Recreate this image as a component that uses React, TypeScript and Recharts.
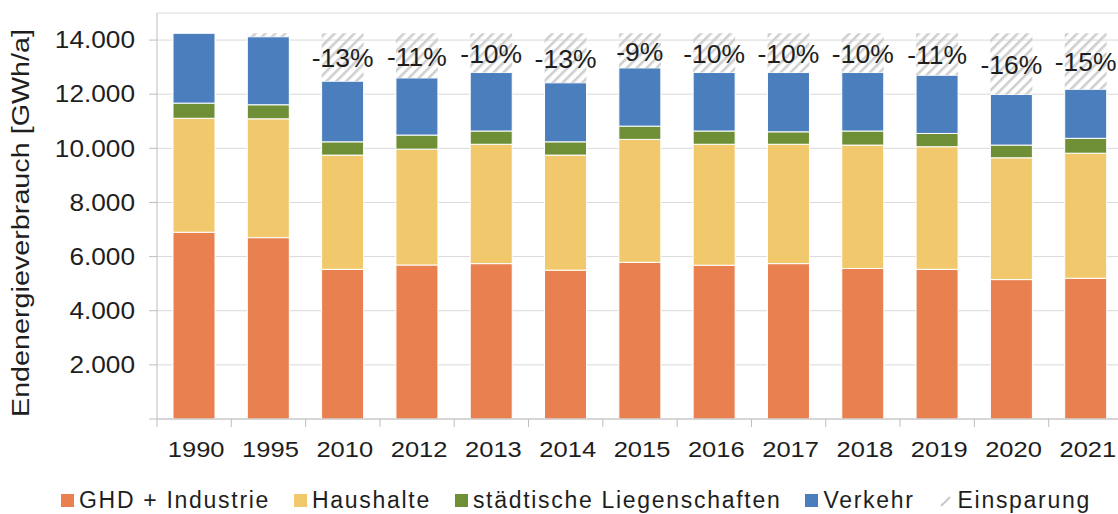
import React from 'react';
import { BarChart, Bar, XAxis, YAxis, CartesianGrid, LabelList } from 'recharts';

const years = ['1990', '1995', '2010', '2012', '2013', '2014', '2015', '2016', '2017', '2018', '2019', '2020', '2021'];
const ghdIndustrie = [6900, 6700, 5530, 5690, 5740, 5500, 5790, 5680, 5740, 5560, 5530, 5150, 5200];
const haushalte = [4210, 4390, 4220, 4280, 4410, 4250, 4540, 4470, 4410, 4560, 4530, 4500, 4620];
const liegenschaften = [560, 520, 490, 520, 490, 490, 490, 490, 460, 520, 490, 470, 550];
const verkehr = [2580, 2510, 2240, 2110, 2160, 2180, 2150, 2160, 2190, 2160, 2150, 1870, 1810];
const einsparung = [0, 130, 1770, 1650, 1450, 1830, 1280, 1450, 1450, 1450, 1550, 2260, 2070];
const einsparungLabels = ['', '', '-13%', '-11%', '-10%', '-13%', '-9%', '-10%', '-10%', '-10%', '-11%', '-16%', '-15%'];
const yTicks = [0, 2000, 4000, 6000, 8000, 10000, 12000, 14000];

const data = years.map((year, i) => ({
  year,
  ghd: ghdIndustrie[i],
  hh: haushalte[i],
  sl: liegenschaften[i],
  vk: verkehr[i],
  ein: einsparung[i],
  label: einsparungLabels[i],
}));

const C_ORANGE = '#E8804F';
const C_YELLOW = '#F2C86C';
const C_GREEN = '#6F8F36';
const C_BLUE = '#4A7EBC';
const AXIS = '#BFBFBF';
const GRID = '#D9D9D9';
const TEXT = '#1E1E1E';
const FONT = '"Liberation Sans", Arial, sans-serif';

const fmt = (v: number) => String(v).replace(/\B(?=(\d{3})+(?!\d))/g, '.');

const YearTick = (props: any) => {
  const { x, y, payload } = props;
  const off = payload && typeof payload.offset === 'number' ? payload.offset : 0;
  return (
    <g>
      <line x1={x - off} x2={x - off} y1={y} y2={y + 8} stroke={AXIS} strokeWidth={1} />
      <text
        transform={`translate(${x + 2},${y + 38}) scale(1.16,1)`}
        textAnchor="middle"
        fontSize={22}
        fontFamily={FONT}
        fill={TEXT}
      >
        {payload.value}
      </text>
    </g>
  );
};

const ValueTick = (props: any) => {
  const { x, y, payload } = props;
  if (!payload || payload.value === 0) return <g />;
  return (
    <text
      transform={`translate(${x},${y}) scale(1.14,1)`}
      textAnchor="end"
      dy="0.36em"
      fontSize={23}
      fontFamily={FONT}
      fill={TEXT}
    >
      {fmt(payload.value)}
    </text>
  );
};

const YLabel = (props: any) => {
  const vb = props.viewBox || {};
  const cy = (vb.y ?? 13) + (vb.height ?? 406) / 2 + 7;
  return (
    <text
      transform={`translate(29,${cy}) rotate(-90) scale(1.25,1)`}
      textAnchor="middle"
      fontSize={23}
      fontFamily={FONT}
      fill={TEXT}
    >
      Endenergieverbrauch [GWh/a]
    </text>
  );
};

const PctLabel = (props: any) => {
  const vb = props.viewBox || props;
  const x = vb.x ?? props.x;
  const y = vb.y ?? props.y;
  const w = vb.width ?? props.width;
  const h = vb.height ?? props.height;
  const value = props.value;
  if (!value) return null;
  return (
    <text
      transform={`translate(${x + w / 2},${y + h / 2 + 1}) scale(1.06,1)`}
      textAnchor="middle"
      dy="0.36em"
      fontSize={25}
      fontFamily={FONT}
      fill={TEXT}
    >
      {value}
    </text>
  );
};

const legendItems = [
  { name: 'GHD + Industrie', color: C_ORANGE },
  { name: 'Haushalte', color: C_YELLOW },
  { name: 'städtische Liegenschaften', color: C_GREEN },
  { name: 'Verkehr', color: C_BLUE },
  { name: 'Einsparung', color: 'hatch' },
];

const Legend = () => (
  <div
    style={{
      position: 'absolute',
      left: 61,
      top: 488.5,
      height: 23,
      display: 'flex',
      alignItems: 'center',
      fontFamily: FONT,
      fontSize: 23,
      lineHeight: '23px',
      color: TEXT,
      whiteSpace: 'nowrap',
    }}
  >
    {legendItems.map((it) => (
      <div key={it.name} style={{ display: 'flex', alignItems: 'center', marginRight: 24 }}>
        {it.color === 'hatch' ? (
          <svg width={13} height={13} style={{ marginRight: 6 }}>
            <line x1={2} y1={12} x2={11} y2={3} stroke="#C8C8C8" strokeWidth={2} />
          </svg>
        ) : (
          <div style={{ width: 13, height: 13, background: it.color, marginRight: 5 }} />
        )}
        <span style={{ letterSpacing: '1.7px' }}>{it.name}</span>
      </div>
    ))}
  </div>
);

export default function App() {
  return (
    <div
      style={{
        position: 'absolute',
        left: 0,
        top: 0,
        width: 1118,
        height: 514,
        overflow: 'hidden',
        background: '#fff',
      }}
    >
      <svg width={0} height={0} style={{ position: 'absolute' }}>
        <defs>
          <pattern id="hatch" patternUnits="userSpaceOnUse" width={7} height={7} patternTransform="rotate(45)">
            <rect x={0} y={0} width={2.6} height={7} fill="#CFCFCF" />
          </pattern>
        </defs>
      </svg>
      <BarChart
        width={1130}
        height={514}
        data={data}
        margin={{ top: 13, right: 7, bottom: 50, left: 0 }}
        barSize={42}
      >
        <CartesianGrid vertical={false} stroke={GRID} strokeWidth={1} />
        <XAxis
          dataKey="year"
          interval={0}
          height={45}
          tickLine={false}
          tickSize={0}
          tickMargin={0}
          axisLine={{ stroke: AXIS, strokeWidth: 1 }}
          tick={<YearTick />}
        />
        <YAxis
          width={157}
          domain={[0, 15000]}
          ticks={yTicks}
          interval={0}
          allowDataOverflow
          tickSize={8}
          tickMargin={14}
          tickLine={{ stroke: AXIS, strokeWidth: 1 }}
          axisLine={{ stroke: AXIS, strokeWidth: 1 }}
          tick={<ValueTick />}
          label={{ content: YLabel }}
        />
        <Bar dataKey="ghd" stackId="a" fill={C_ORANGE} stroke="#FFFFFF" strokeWidth={1} isAnimationActive={false} />
        <Bar dataKey="hh" stackId="a" fill={C_YELLOW} stroke="#FFFFFF" strokeWidth={1} isAnimationActive={false} />
        <Bar dataKey="sl" stackId="a" fill={C_GREEN} stroke="#FFFFFF" strokeWidth={1} isAnimationActive={false} />
        <Bar dataKey="vk" stackId="a" fill={C_BLUE} stroke="#FFFFFF" strokeWidth={1} isAnimationActive={false} />
        <Bar dataKey="ein" stackId="a" fill="url(#hatch)" isAnimationActive={false}>
          <LabelList dataKey="label" content={PctLabel} />
        </Bar>
      </BarChart>
      <Legend />
    </div>
  );
}
